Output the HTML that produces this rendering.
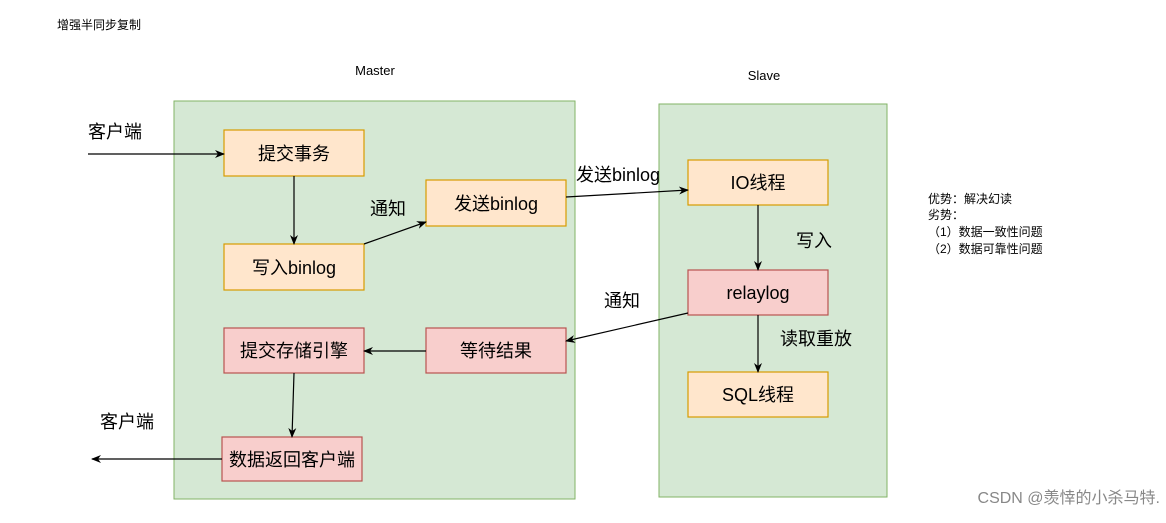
<!DOCTYPE html>
<html><head><meta charset="utf-8"><style>
body{margin:0;background:#fff}
svg text{font-family:"Liberation Sans","Noto Sans CJK SC",sans-serif}
</style></head><body>
<svg width="1166" height="518" viewBox="0 0 1166 518" xmlns="http://www.w3.org/2000/svg">
<defs><marker id="a" markerWidth="10" markerHeight="10" refX="9" refY="5" orient="auto" markerUnits="userSpaceOnUse"><path d="M0,1 L10,5 L0,9 L3,5 Z" fill="#000"/></marker></defs>
<rect width="1166" height="518" fill="#fff"/>
<text x="57" y="29" font-size="12">增强半同步复制</text>
<text x="375" y="75" font-size="13" text-anchor="middle">Master</text>
<text x="764" y="80" font-size="13" text-anchor="middle">Slave</text>
<rect x="174" y="101" width="401" height="398" fill="#d5e8d4" stroke="#82b366"/>
<rect x="659" y="104" width="228" height="393" fill="#d5e8d4" stroke="#82b366"/>
<g stroke-width="1.2">
<rect x="224" y="130" width="140" height="46" fill="#ffe6cc" stroke="#d79b00"/>
<rect x="224" y="244" width="140" height="46" fill="#ffe6cc" stroke="#d79b00"/>
<rect x="426" y="180" width="140" height="46" fill="#ffe6cc" stroke="#d79b00"/>
<rect x="426" y="328" width="140" height="45" fill="#f8cecc" stroke="#b85450"/>
<rect x="224" y="328" width="140" height="45" fill="#f8cecc" stroke="#b85450"/>
<rect x="222" y="437" width="140" height="44" fill="#f8cecc" stroke="#b85450"/>
<rect x="688" y="160" width="140" height="45" fill="#ffe6cc" stroke="#d79b00"/>
<rect x="688" y="270" width="140" height="45" fill="#f8cecc" stroke="#b85450"/>
<rect x="688" y="372" width="140" height="45" fill="#ffe6cc" stroke="#d79b00"/>
</g>
<g font-size="18" text-anchor="middle">
<text x="294" y="160">提交事务</text>
<text x="294" y="274">写入binlog</text>
<text x="496" y="210">发送binlog</text>
<text x="496" y="357">等待结果</text>
<text x="294" y="357">提交存储引擎</text>
<text x="292" y="466">数据返回客户端</text>
<text x="758" y="189">IO线程</text>
<text x="758" y="299">relaylog</text>
<text x="758" y="401">SQL线程</text>
</g>
<g font-size="18">
<text x="88" y="138">客户端</text>
<text x="100" y="428">客户端</text>
<text x="370" y="215">通知</text>
<text x="576" y="181">发送binlog</text>
<text x="796" y="247">写入</text>
<text x="780" y="345">读取重放</text>
<text x="604" y="307">通知</text>
</g>
<g stroke="#000" stroke-width="1.2" fill="none" marker-end="url(#a)">
<line x1="88" y1="154" x2="224" y2="154"/>
<line x1="222" y1="459" x2="92" y2="459"/>
<line x1="294" y1="176" x2="294" y2="244"/>
<line x1="364" y1="244" x2="426" y2="222"/>
<line x1="566" y1="197" x2="688" y2="190"/>
<line x1="758" y1="205" x2="758" y2="270"/>
<line x1="758" y1="315" x2="758" y2="372"/>
<line x1="688" y1="313" x2="566" y2="341"/>
<line x1="426" y1="351" x2="364" y2="351"/>
<line x1="294" y1="373" x2="292" y2="437"/>
</g>
<g font-size="12">
<text x="928" y="203">优势：解决幻读</text>
<text x="928" y="219">劣势：</text>
<text x="928" y="236">（1）数据一致性问题</text>
<text x="928" y="253">（2）数据可靠性问题</text>
</g>
<text x="1160" y="503" font-size="16" fill="#888" text-anchor="end">CSDN @羡悻的小杀马特.</text>
</svg>
</body></html>
